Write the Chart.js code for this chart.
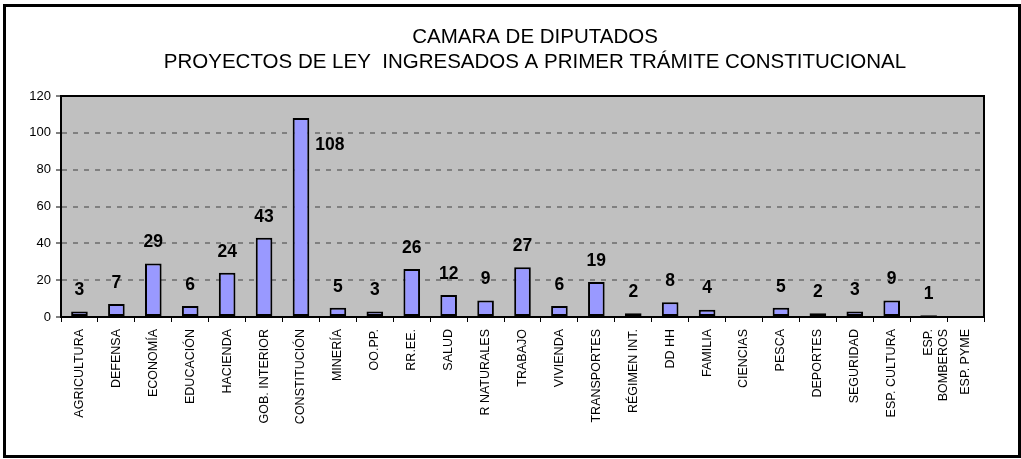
<!DOCTYPE html>
<html lang="es">
<head>
<meta charset="UTF-8">
<title>Camara de Diputados</title>
<script src="https://cdn.jsdelivr.net/npm/chart.js"></script>
<style>
  body { margin: 0; background: #fff; }
  .frame { position: absolute; left: 3px; top: 4px; width: 1012px; height: 448px; border: 3px solid #000; }
  .master { position: absolute; left: 0; top: 0; width: 1021px; height: 459px; }
</style>
</head>
<body>
<div class="frame"></div>
<div class="master"><canvas id="myChart"></canvas></div>
<script>
// data
const titleLines = ['CAMARA DE DIPUTADOS', 'PROYECTOS DE LEY  INGRESADOS A PRIMER TRÁMITE CONSTITUCIONAL'];
const categories = ['AGRICULTURA', 'DEFENSA', 'ECONOMÍA', 'EDUCACIÓN', 'HACIENDA', 'GOB. INTERIOR',
  'CONSTITUCIÓN', 'MINERÍA', 'OO.PP.', 'RR.EE.', 'SALUD', 'R NATURALES', 'TRABAJO', 'VIVIENDA',
  'TRANSPORTES', 'RÉGIMEN INT.', 'DD HH', 'FAMILIA', 'CIENCIAS', 'PESCA', 'DEPORTES', 'SEGURIDAD',
  'ESP. CULTURA', ['ESP.', 'BOMBEROS'], 'ESP. PYME'];
const proyectos = [3, 7, 29, 6, 24, 43, 108, 5, 3, 26, 12, 9, 27, 6, 19, 2, 8, 4, null, 5, 2, 3, 9, 1, null];
const yTicks = [0, 20, 40, 60, 80, 100, 120];

const FONT = '"Liberation Sans", Arial, sans-serif';

// grey plot background + black frame + title
const plotBox = {
  id: 'plotBox',
  beforeDraw(chart) {
    const { ctx, chartArea: a } = chart;
    ctx.save();
    ctx.fillStyle = '#c0c0c0';
    ctx.fillRect(a.left, a.top, a.right - a.left, a.bottom - a.top);
    ctx.restore();
  },
  afterDraw(chart) {
    const { ctx, chartArea: a } = chart;
    ctx.save();
    ctx.strokeStyle = '#000';
    ctx.lineWidth = 2;
    ctx.strokeRect(a.left, a.top, a.right - a.left, a.bottom - a.top);
    ctx.fillStyle = '#000';
    ctx.font = '20.5px ' + FONT;
    ctx.textAlign = 'center';
    ctx.textBaseline = 'alphabetic';
    ctx.fillText(titleLines[0], 535, 43);
    ctx.fillText(titleLines[1], 535, 68);
    ctx.restore();
  }
};

// value labels above each bar
const valueLabels = {
  id: 'valueLabels',
  afterDatasetsDraw(chart) {
    const { ctx, chartArea: a } = chart;
    const meta = chart.getDatasetMeta(0);
    ctx.save();
    ctx.fillStyle = '#000';
    ctx.font = 'bold 17.5px ' + FONT;
    ctx.textBaseline = 'middle';
    meta.data.forEach((bar, i) => {
      const v = proyectos[i];
      if (v === null || v === 0) return;
      if (bar.y - 32 < a.top) {
        ctx.textAlign = 'left';
        ctx.fillText(String(v), bar.x + bar.width / 2 + 6, bar.y + 27);
      } else {
        ctx.textAlign = 'center';
        ctx.fillText(String(v), bar.x, bar.y - 21);
      }
    });
    ctx.restore();
  }
};

const ctx = document.getElementById('myChart').getContext('2d');
const myChart = new Chart(ctx, {
  type: 'bar',
  data: {
    labels: categories,
    datasets: [{
      label: 'Proyectos',
      data: proyectos,
      backgroundColor: '#9999ff',
      borderColor: '#000',
      borderWidth: 2,
      borderSkipped: false,
      barPercentage: 0.45,
      categoryPercentage: 1
    }]
  },
  options: {
    responsive: true,
    maintainAspectRatio: false,
    animation: false,
    layout: { padding: { top: 96, right: 37, left: 0, bottom: 0 } },
    plugins: {
      legend: { display: false },
      title: { display: false },
      tooltip: { enabled: false }
    },
    scales: {
      x: {
        afterFit(scale) { scale.height = 142; },
        grid: {
          offset: true,
          drawOnChartArea: false,
          color: '#000',
          tickLength: 5,
          lineWidth: 1
        },
        border: { color: '#000', width: 2 },
        ticks: {
          color: '#000',
          font: { family: FONT, size: 12.5 },
          minRotation: 90,
          maxRotation: 90,
          autoSkip: false,
          padding: 7
        }
      },
      y: {
        min: 0,
        max: 120,
        afterFit(scale) { scale.width = 61; },
        afterBuildTicks(scale) { scale.ticks = yTicks.map(v => ({ value: v })); },
        grid: {
          color: c => (c.tick && (c.tick.value === 0 || c.tick.value === 120)) ? 'rgba(0,0,0,0)' : '#808080',
          lineWidth: 2,
          tickColor: '#000',
          tickLength: 5,
          tickWidth: 1,
          tickBorderDash: []
        },
        border: { color: '#000', width: 2, dash: [5, 6] },
        ticks: {
          color: '#000',
          font: { family: FONT, size: 13 },
          padding: 5
        }
      }
    }
  },
  plugins: [plotBox, valueLabels]
});
</script>
</body>
</html>
